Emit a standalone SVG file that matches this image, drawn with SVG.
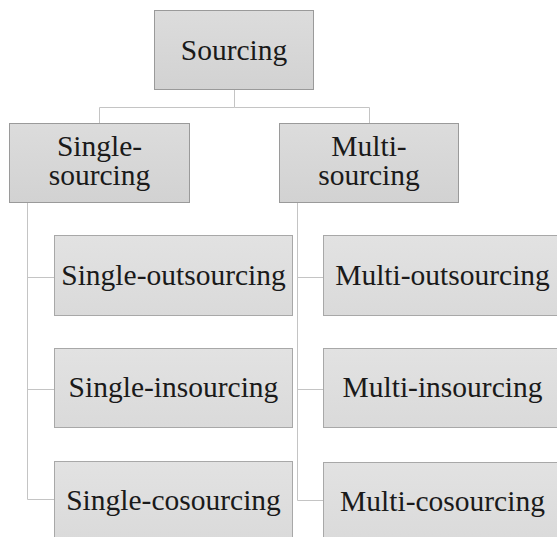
<svg xmlns="http://www.w3.org/2000/svg" width="557" height="537" viewBox="0 0 557 537">
<defs>
<linearGradient id="gTop" x1="0" y1="0" x2="0" y2="1">
<stop offset="0" stop-color="#dcdcdc"/>
<stop offset="1" stop-color="#d2d2d2"/>
</linearGradient>
<linearGradient id="gChild" x1="0" y1="0" x2="0" y2="1">
<stop offset="0" stop-color="#e2e2e2"/>
<stop offset="1" stop-color="#dadada"/>
</linearGradient>
</defs>
<style>
.box{fill:url(#gTop);stroke:#9a9a9a;stroke-width:1}
.cbox{fill:url(#gChild);stroke:#a8a8a8;stroke-width:1}
.t{font-size:29.5px;fill:#1a1a1a;text-anchor:middle}
.c{fill:none;stroke:#c4c4c4;stroke-width:1}
</style>
<rect width="557" height="537" fill="#ffffff"/>
<g id="connectors">
<path class="c" d="M234.5,90 V107.5 H99.5 V123"/>
<path class="c" d="M234.5,107.5 H369.5 V123"/>
<path class="c" d="M27.5,202 V499.5 H54"/>
<path class="c" d="M27.5,277.5 H54"/>
<path class="c" d="M27.5,389.5 H54"/>
<path class="c" d="M297.5,202 V500.5 H323"/>
<path class="c" d="M297.5,277.5 H323"/>
<path class="c" d="M297.5,389.5 H323"/>
</g>
<g font-family="'Liberation Serif', 'DejaVu Serif', serif">
<g id="sourcing">
<rect class="box" x="154.5" y="10.5" width="159" height="79"/>
<text class="t" x="234" y="60">Sourcing</text>
</g>
<g id="single-sourcing">
<rect class="box" x="9.5" y="123.5" width="180" height="79"/>
<text class="t" x="99.5" y="156">Single-</text>
<text class="t" x="99.5" y="185">sourcing</text>
</g>
<g id="multi-sourcing">
<rect class="box" x="279.5" y="123.5" width="179" height="79"/>
<text class="t" x="369" y="156">Multi-</text>
<text class="t" x="369" y="185">sourcing</text>
</g>
<g id="single-outsourcing">
<rect class="cbox" x="54.5" y="235.5" width="238" height="80"/>
<text class="t" x="173.5" y="285">Single-outsourcing</text>
</g>
<g id="single-insourcing">
<rect class="cbox" x="54.5" y="348.5" width="238" height="79"/>
<text class="t" x="173.5" y="397">Single-insourcing</text>
</g>
<g id="single-cosourcing">
<rect class="cbox" x="54.5" y="461.5" width="238" height="81"/>
<text class="t" x="173.5" y="510">Single-cosourcing</text>
</g>
<g id="multi-outsourcing">
<rect class="cbox" x="323.5" y="235.5" width="238" height="80"/>
<text class="t" x="442.5" y="285">Multi-outsourcing</text>
</g>
<g id="multi-insourcing">
<rect class="cbox" x="323.5" y="348.5" width="238" height="79"/>
<text class="t" x="442.5" y="397">Multi-insourcing</text>
</g>
<g id="multi-cosourcing">
<rect class="cbox" x="323.5" y="462.5" width="238" height="81"/>
<text class="t" x="442.5" y="511">Multi-cosourcing</text>
</g>
</g>
</svg>
